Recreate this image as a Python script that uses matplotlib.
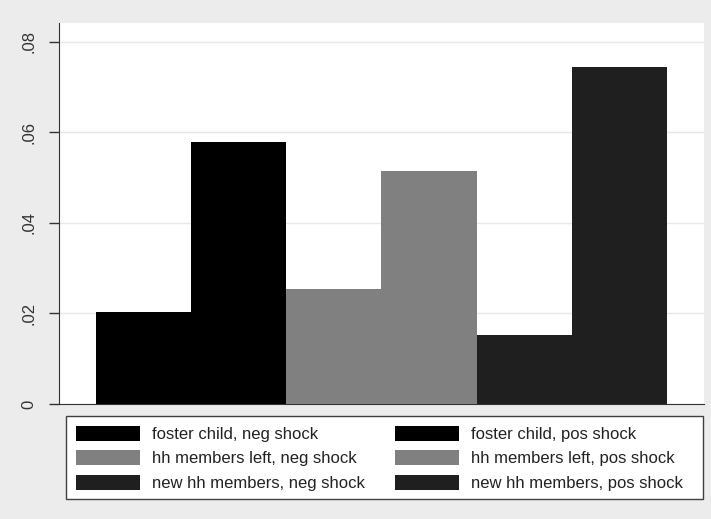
import matplotlib
matplotlib.use("Agg")
import matplotlib.pyplot as plt
import numpy as np

# valores
labels = ["foster child, neg shock", "foster child, pos shock",
          "hh members left, neg shock", "hh members left, pos shock",
          "new hh members, neg shock", "new hh members, pos shock"]
values = [0.0203, 0.0579, 0.0253, 0.0514, 0.0152, 0.0744]
colors = ["#000000", "#000000", "#808080", "#808080", "#1f1f1f", "#1f1f1f"]
yticks = [0, 0.02, 0.04, 0.06, 0.08]
yticklabels = ["0", ".02", ".04", ".06", ".08"]

plt.rcParams["font.family"] = ["Liberation Sans", "DejaVu Sans"]

fig = plt.figure(figsize=(7.11, 5.19), dpi=100, facecolor="#ececec")
ax = fig.add_axes([59/711, 1 - 404/519, 645/711, 381/519])
ax.set_facecolor("white")

x = np.arange(len(values))
bars = ax.bar(x, values, width=1.0, align="edge", color=colors,
              linewidth=0, zorder=3)

ax.set_xlim(-0.389, 6.389)
ax.set_ylim(0, 0.0841)
ax.set_yticks(yticks)
ax.set_yticklabels(yticklabels, rotation=90, va="center", fontsize=12, color="#333333")
ax.set_xticks([])
ax.grid(axis="y", color="#e8e8e8", linewidth=1.0, zorder=0)
ax.tick_params(axis="y", length=7, width=1, color="#333333", pad=9)
for s in ["top", "right"]:
    ax.spines[s].set_visible(False)
ax.spines["left"].set_color("#333333")
ax.spines["bottom"].set_color("#333333")

# marco de la leyenda (mas ancho que el contenido, como en Stata)
box = plt.Rectangle((66/711, 1 - 499/519), 637/711, 83/519,
                    transform=fig.transFigure, facecolor="white",
                    edgecolor="#404040", linewidth=1.0, zorder=1)
fig.patches.append(box)

# leyenda en dos columnas, orden por filas
order = [0, 2, 4, 1, 3, 5]
leg = fig.legend([bars[i] for i in order], [labels[i] for i in order],
                 ncol=2, loc="upper left",
                 bbox_to_anchor=(66/711, 1 - 416/519),
                 fontsize=12, frameon=False,
                 handlelength=3.83, handleheight=1.0, handletextpad=0.72,
                 labelspacing=0.49, borderpad=0.6, borderaxespad=0,
                 columnspacing=1.8)
leg.set_zorder(2)
for t in leg.get_texts():
    t.set_color("#222222")

fig.savefig("out.png", dpi=100, facecolor=fig.get_facecolor())
